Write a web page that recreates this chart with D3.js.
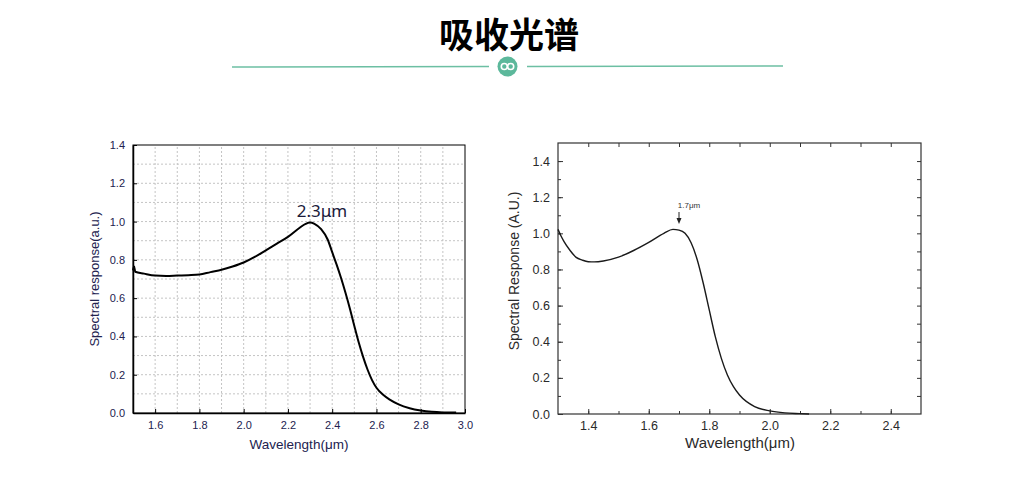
<!DOCTYPE html>
<html>
<head>
<meta charset="utf-8">
<script src="https://cdn.jsdelivr.net/npm/d3@7"></script>
<style>
  body { margin: 0; background: #fff; }
  svg { display: block; }
</style>
</head>
<body>
<div id="chart"></div>
<script>
// left chart: 2.3um detector
var leftWavelength = [1.50, 1.505, 1.51, 1.55, 1.60, 1.65, 1.70, 1.75, 1.80, 1.85, 1.90, 1.95, 2.00, 2.05, 2.10, 2.15, 2.20, 2.25, 2.28, 2.30, 2.32, 2.35, 2.38, 2.40, 2.42, 2.44, 2.46, 2.48, 2.50, 2.52, 2.54, 2.56, 2.58, 2.60, 2.63, 2.66, 2.70, 2.75, 2.80, 2.85, 2.90, 2.96];
var leftResponse   = [0.745, 0.765, 0.738, 0.728, 0.718, 0.716, 0.718, 0.720, 0.723, 0.736, 0.748, 0.765, 0.786, 0.815, 0.850, 0.885, 0.920, 0.965, 0.988, 0.995, 0.988, 0.960, 0.905, 0.840, 0.775, 0.705, 0.628, 0.545, 0.455, 0.368, 0.292, 0.226, 0.172, 0.132, 0.095, 0.070, 0.045, 0.025, 0.013, 0.006, 0.003, 0.002];
var leftXTicks = [1.6, 1.8, 2.0, 2.2, 2.4, 2.6, 2.8, 3.0];
var leftYTicks = [0.0, 0.2, 0.4, 0.6, 0.8, 1.0, 1.2, 1.4];

// right chart: 1.7um detector
var rightWavelength = [1.30, 1.31, 1.32, 1.34, 1.36, 1.38, 1.40, 1.42, 1.45, 1.50, 1.55, 1.60, 1.65, 1.68, 1.70, 1.72, 1.74, 1.76, 1.78, 1.80, 1.82, 1.84, 1.86, 1.88, 1.90, 1.95, 2.00, 2.05, 2.10, 2.13];
var rightResponse   = [1.022, 0.985, 0.954, 0.905, 0.867, 0.852, 0.843, 0.842, 0.847, 0.868, 0.905, 0.950, 1.000, 1.022, 1.018, 1.000, 0.948, 0.855, 0.725, 0.576, 0.428, 0.308, 0.216, 0.151, 0.105, 0.041, 0.017, 0.006, 0.002, 0.000];
var rightXTicks = [1.4, 1.6, 1.8, 2.0, 2.2, 2.4];
var rightYTicks = [0.0, 0.2, 0.4, 0.6, 0.8, 1.0, 1.2, 1.4];

var svg = d3.select("#chart").append("svg")
    .attr("width", 1035)
    .attr("height", 488);

svg.append("rect").attr("width", 1035).attr("height", 488).attr("fill", "#fff");

/* header */
svg.append("text")
    .attr("x", 509).attr("y", 48)
    .attr("text-anchor", "middle")
    .style("font-family", "'Noto Sans CJK SC'")
    .style("font-weight", 700)
    .style("font-size", "35px")
    .attr("fill", "#000")
    .text("吸收光谱");

svg.append("line").attr("x1", 232).attr("x2", 489).attr("y1", 67).attr("y2", 66.5)
    .attr("stroke", "#6cbfa3").attr("stroke-width", 1.5);
svg.append("line").attr("x1", 527).attr("x2", 783).attr("y1", 66.5).attr("y2", 66)
    .attr("stroke", "#6cbfa3").attr("stroke-width", 1.5);
svg.append("circle").attr("cx", 507.5).attr("cy", 66.5).attr("r", 10).attr("fill", "#5cb89b");
[-3.2, 3.2].forEach(function(dx){
    svg.append("circle").attr("cx", 507.5 + dx).attr("cy", 66.5).attr("r", 3)
        .attr("fill", "none").attr("stroke", "#fff").attr("stroke-width", 1.6);
});

/* ---------- left chart ---------- */
var lx = d3.scaleLinear().domain([1.5, 3.0]).range([133, 465]);
var ly = d3.scaleLinear().domain([0, 1.4]).range([413, 145]);
var leftColor = "#22224f";

var lg = svg.append("g");

// dotted grid every 0.1
lg.selectAll(".vgrid")
    .data(d3.range(16, 30).map(function(d){ return d / 10; }))
    .enter().append("line")
    .attr("x1", function(d){ return lx(d); }).attr("x2", function(d){ return lx(d); })
    .attr("y1", ly(0)).attr("y2", ly(1.4))
    .attr("stroke", "#c4c4c4").attr("stroke-dasharray", "2,2");
lg.selectAll(".hgrid")
    .data(d3.range(1, 14).map(function(d){ return d / 10; }))
    .enter().append("line")
    .attr("x1", lx(1.5)).attr("x2", lx(3.0))
    .attr("y1", function(d){ return ly(d); }).attr("y2", function(d){ return ly(d); })
    .attr("stroke", "#c4c4c4").attr("stroke-dasharray", "2,2");

lg.append("rect")
    .attr("x", lx(1.5)).attr("y", ly(1.4))
    .attr("width", lx(3.0) - lx(1.5)).attr("height", ly(0) - ly(1.4))
    .attr("fill", "none").attr("stroke", "#000").attr("stroke-width", 1);

var lxAxis = d3.axisBottom(lx).tickValues(leftXTicks).tickSizeInner(-4).tickSizeOuter(0)
    .tickPadding(8).tickFormat(d3.format(".1f"));
var lyAxis = d3.axisLeft(ly).tickValues(leftYTicks).tickSizeInner(-4).tickSizeOuter(0)
    .tickPadding(8).tickFormat(d3.format(".1f"));

lg.append("g").attr("transform", "translate(0," + ly(0) + ")").call(lxAxis);
lg.append("g").attr("transform", "translate(" + lx(1.5) + ",0)").call(lyAxis);
lg.selectAll(".domain").attr("stroke", "#000").attr("stroke-width", 1.5);
lg.selectAll(".tick line").attr("stroke", "#000");
lg.selectAll(".tick text")
    .style("font-family", "'Liberation Sans', Arial, sans-serif")
    .style("font-size", "11px").attr("fill", leftColor);

lg.append("path")
    .datum(d3.zip(leftWavelength, leftResponse))
    .attr("fill", "none").attr("stroke", "#000").attr("stroke-width", 2)
    .attr("d", d3.line().x(function(d){ return lx(d[0]); }).y(function(d){ return ly(d[1]); })
        .curve(d3.curveMonotoneX));

lg.append("text")
    .attr("x", 322).attr("y", 217).attr("text-anchor", "middle")
    .style("font-family", "'Noto Sans', sans-serif").style("font-size", "17px")
    .attr("fill", "#1a1a3a").text("2.3μm");

lg.append("text")
    .attr("x", (lx(1.5) + lx(3.0)) / 2).attr("y", 449).attr("text-anchor", "middle")
    .style("font-family", "'Liberation Sans', Arial, sans-serif").style("font-size", "13.5px")
    .attr("fill", leftColor).text("Wavelength(μm)");
lg.append("text")
    .attr("transform", "translate(99," + ly(0.7) + ") rotate(-90)")
    .attr("text-anchor", "middle")
    .style("font-family", "'Liberation Sans', Arial, sans-serif").style("font-size", "13px")
    .attr("fill", leftColor).text("Spectral response(a.u.)");

/* ---------- right chart ---------- */
var rx = d3.scaleLinear().domain([1.3, 2.5]).range([558, 921]);
var ry = d3.scaleLinear().domain([0, 1.5]).range([414, 143]);
var rightColor = "#2a2a2a";

var rg = svg.append("g");

rg.append("rect")
    .attr("x", rx(1.3)).attr("y", ry(1.5))
    .attr("width", rx(2.5) - rx(1.3)).attr("height", ry(0) - ry(1.5))
    .attr("fill", "none").attr("stroke", "#333").attr("stroke-width", 1.2);

var rxMinor = d3.range(14, 25).map(function(d){ return d / 10; });
var ryMinor = d3.range(1, 15).map(function(d){ return d / 10; });

// minor ticks on all four sides
rg.append("g").attr("transform", "translate(0," + ry(0) + ")")
    .call(d3.axisBottom(rx).tickValues(rxMinor).tickSizeInner(-3).tickSizeOuter(0).tickFormat(""));
rg.append("g").attr("transform", "translate(0," + ry(1.5) + ")")
    .call(d3.axisTop(rx).tickValues(rxMinor).tickSizeInner(-4).tickSizeOuter(0).tickFormat(""));
rg.append("g").attr("transform", "translate(" + rx(1.3) + ",0)")
    .call(d3.axisLeft(ry).tickValues(ryMinor).tickSizeInner(-3).tickSizeOuter(0).tickFormat(""));
rg.append("g").attr("transform", "translate(" + rx(2.5) + ",0)")
    .call(d3.axisRight(ry).tickValues(ryMinor).tickSizeInner(-4).tickSizeOuter(0).tickFormat(""));

// major ticks with labels
rg.append("g").attr("transform", "translate(0," + ry(0) + ")")
    .call(d3.axisBottom(rx).tickValues(rightXTicks).tickSizeInner(-5).tickSizeOuter(0)
        .tickPadding(7).tickFormat(d3.format(".1f")));
rg.append("g").attr("transform", "translate(" + rx(1.3) + ",0)")
    .call(d3.axisLeft(ry).tickValues(rightYTicks).tickSizeInner(-5).tickSizeOuter(0)
        .tickPadding(8).tickFormat(d3.format(".1f")));

rg.selectAll(".domain").remove();
rg.selectAll(".tick line").attr("stroke", "#333");
rg.selectAll(".tick text")
    .style("font-family", "'Liberation Sans', Arial, sans-serif")
    .style("font-size", "12.5px").attr("fill", rightColor);

rg.append("path")
    .datum(d3.zip(rightWavelength, rightResponse))
    .attr("fill", "none").attr("stroke", "#1a1a1a").attr("stroke-width", 1.4)
    .attr("d", d3.line().x(function(d){ return rx(d[0]); }).y(function(d){ return ry(d[1]); })
        .curve(d3.curveMonotoneX));

// peak annotation
rg.append("text")
    .attr("x", 689).attr("y", 208).attr("text-anchor", "middle")
    .style("font-family", "'Liberation Sans', Arial, sans-serif").style("font-size", "8px")
    .attr("fill", "#333").text("1.7μm");
rg.append("line").attr("x1", rx(1.7)).attr("x2", rx(1.7)).attr("y1", 212).attr("y2", 220)
    .attr("stroke", "#222").attr("stroke-width", 1);
rg.append("path")
    .attr("d", "M" + (rx(1.7) - 2.5) + ",218 L" + (rx(1.7) + 2.5) + ",218 L" + rx(1.7) + ",224 Z")
    .attr("fill", "#222");

rg.append("text")
    .attr("x", 740).attr("y", 448).attr("text-anchor", "middle")
    .style("font-family", "'Liberation Sans', Arial, sans-serif").style("font-size", "15px")
    .attr("fill", rightColor).text("Wavelength(μm)");
rg.append("text")
    .attr("transform", "translate(519,271) rotate(-90)")
    .attr("text-anchor", "middle")
    .style("font-family", "'Liberation Sans', Arial, sans-serif").style("font-size", "14px")
    .attr("fill", rightColor).text("Spectral Response (A.U.)");
</script>
</body>
</html>
